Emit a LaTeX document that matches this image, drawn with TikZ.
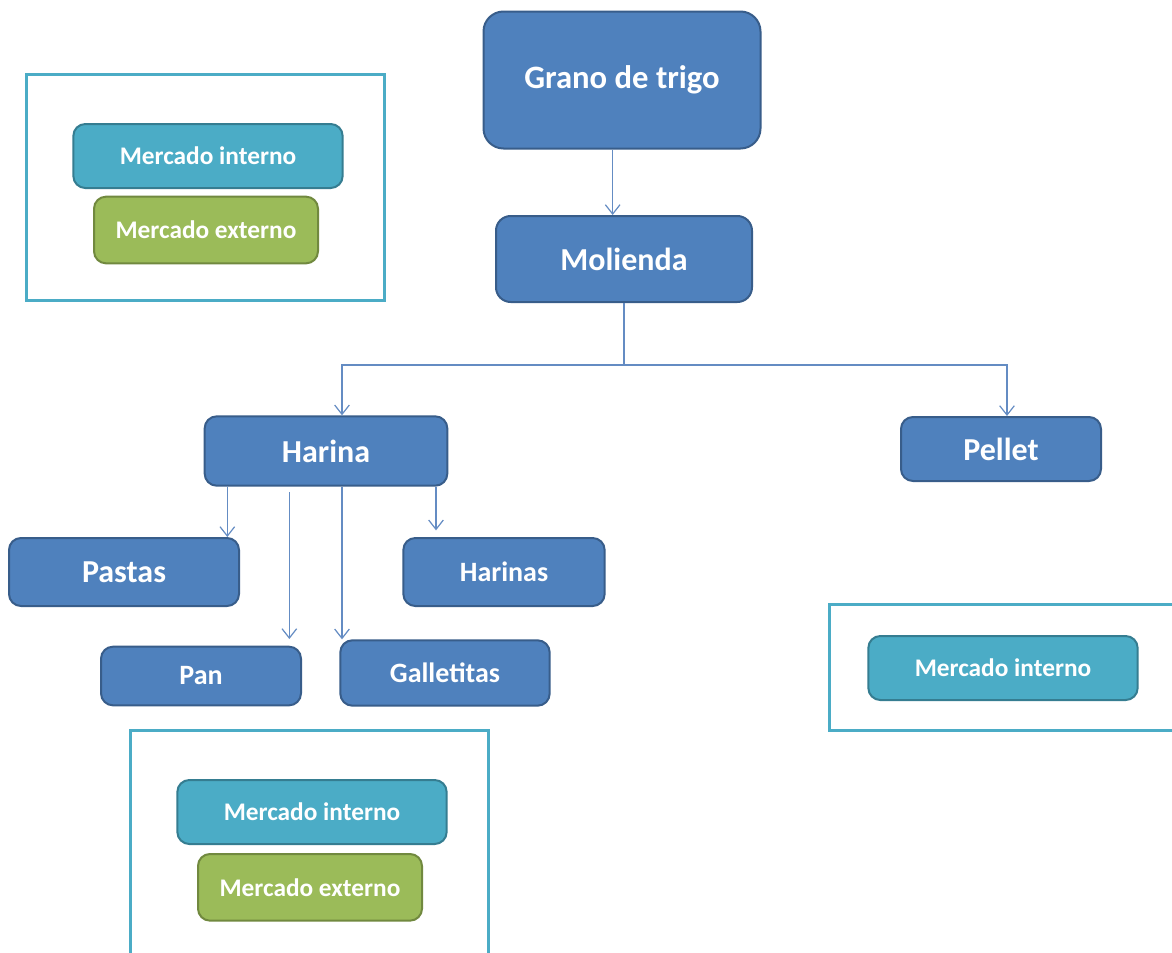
\documentclass[tikz,border=0pt]{standalone}
\usepackage{fontspec}
\setmainfont{Carlito}
\usetikzlibrary{positioning,arrows.meta}
\definecolor{procc}{RGB}{79,129,189}
\definecolor{procd}{RGB}{56,93,138}
\definecolor{intc}{RGB}{75,172,198}
\definecolor{intd}{RGB}{53,125,145}
\definecolor{extc}{RGB}{155,187,89}
\definecolor{extd}{RGB}{113,137,63}
\definecolor{linec}{RGB}{100,140,195}
\tikzset{
  box/.style={rounded corners=9pt, line width=1.5pt, align=center, text=white, inner sep=2pt, font=\bfseries},
  proc/.style={box, fill=procc, draw=procd},
  big/.style={font=\bfseries\fontsize{24}{28}\selectfont},
  mid/.style={font=\bfseries\fontsize{21}{25}\selectfont},
  intm/.style={box, fill=intc, draw=intd, minimum width=202pt, minimum height=48pt, font=\bfseries\fontsize{19}{22}\selectfont},
  extm/.style={box, fill=extc, draw=extd, minimum width=168pt, minimum height=50pt, font=\bfseries\fontsize{19}{22}\selectfont},
  frame/.style={draw=intc, line width=2.25pt, fill=white},
  flow/.style={-{Straight Barb[length=7pt, width=11pt]}, line width=0.9pt, linec}
}

\begin{document}
\begin{tikzpicture}[x=0.75pt, y=-0.75pt]
  \useasboundingbox[fill=white] (0,0) rectangle (1172,953);

  % ---- frames for the markets ----
  \node[frame, minimum width=268pt, minimum height=169.5pt] (fr1) at (205.5,187) {};
  \node[frame, minimum width=267pt, minimum height=94.5pt] (fr2) at (1007,667) {};
  \node[frame, minimum width=268pt, minimum height=172.5pt] (fr3) at (309.5,845) {};

  % ---- process chain ----
  \node[proc, big, font=\bfseries\fontsize{24.5}{28}\selectfont, rounded corners=15pt, minimum width=207.75pt, minimum height=102.75pt] (grano) at (622,80) {Grano de trigo};
  \node[proc, big, rounded corners=11pt, minimum width=192pt, minimum height=64.5pt] (molienda) at (624,259) {Molienda};
  \node[proc, big, minimum width=182pt, minimum height=52pt] (harina) at (326,451) {Harina};
  \node[proc, big, minimum width=150pt, minimum height=48pt] (pellet) at (1001,449) {Pellet};

  % ---- products ----
  \node[proc, big, minimum width=172.5pt, minimum height=51pt] (pastas) at (124,572) {Pastas};
  \node[proc, mid, minimum width=151pt, minimum height=51pt] (harinas) at (504,572) {Harinas};
  \node[proc, mid, minimum width=150pt, minimum height=44pt] (pan) at (201,676) {Pan};
  \node[proc, mid, minimum width=157pt, minimum height=49pt] (galletitas) at (445,673) {Galletitas};

  % ---- markets ----
  \node[intm] (mi1) at (208,156) {Mercado interno};
  \node[extm, below=5pt of mi1, xshift=-1.5pt] (me1) {Mercado externo};
  \node[intm] (mi2) at (1003,668) {Mercado interno};
  \node[intm] (mi3) at (312,812) {Mercado interno};
  \node[extm, below=6pt of mi3, xshift=-1.5pt] (me3) {Mercado externo};

  % flows
  \draw[flow] ([xshift=-7pt]grano.south) -- ([xshift=-8.5pt]molienda.north);
  \coordinate (split) at ([yshift=-46.5pt]molienda.south);
  \draw[flow] (molienda.south) -- (split) -| ([xshift=12pt]harina.north);
  \draw[flow] (split) -| ([xshift=4.5pt]pellet.north);
  \draw[flow] ([xshift=-74pt]harina.south) -- ([xshift=-74pt]harina.south |- pastas.north);
  \draw[flow, shorten >=5pt] ([xshift=-27.5pt, yshift=-4pt]harina.south) -- ([xshift=-27.5pt]harina.south |- pan.north);
  \draw[flow] ([xshift=12pt]harina.south) -- ([xshift=12pt]harina.south |- galletitas.north);
  \draw[flow, shorten >=5pt] ([xshift=82.5pt]harina.south) -- ([xshift=82.5pt]harina.south |- harinas.north);
\end{tikzpicture}
\end{document}
